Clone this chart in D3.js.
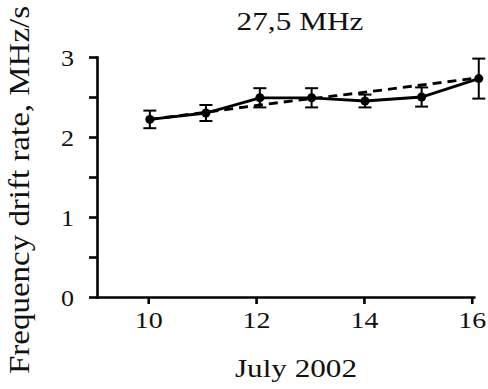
<!DOCTYPE html>
<html>
<head>
<meta charset="utf-8">
<script src="https://cdn.jsdelivr.net/npm/d3@7"></script>
<style>
  body { margin: 0; background: #fff; }
  svg { display: block; font-family: "Liberation Serif", "Times New Roman", serif; }
  .axis path, .axis line { stroke: #000; stroke-width: 2.6px; }
  .axis text { fill: #111; }
</style>
</head>
<body>
<div id="chart"></div>
<script>
// days (July 2002), measured drift rate, error and smoothed curve
var days = [10.03, 11.07, 12.07, 13.03, 14.02, 15.07, 16.13];
var rate = [2.22, 2.30, 2.49, 2.49, 2.45, 2.50, 2.73];
var err = [0.11, 0.10, 0.12, 0.12, 0.08, 0.12, 0.25];
var trend = [2.22, 2.31, 2.40, 2.48, 2.56, 2.65, 2.74];
var xTicks = [10, 12, 14, 16];
var yTicks = [0, 0.5, 1, 1.5, 2, 2.5, 3];

var width = 488, height = 389;

var svg = d3.select("#chart").append("svg")
  .attr("width", width)
  .attr("height", height);

/* Scales */
var x = d3.scaleLinear().domain([9.05, 16.06]).range([97, 475]);
var y = d3.scaleLinear().domain([0, 3]).range([297, 57]);

/* Axes */
var xAxis = d3.axisBottom(x).tickValues(xTicks).tickSize(7).tickSizeOuter(0).tickPadding(8)
  .tickFormat(d3.format("d"));
var yAxis = d3.axisLeft(y).tickValues(yTicks).tickSize(8).tickSizeOuter(0).tickPadding(15)
  .tickFormat(d => Number.isInteger(d) ? d : "");

var gx = svg.append("g")
  .attr("class", "x axis")
  .attr("transform", "translate(0," + y(0) + ")")
  .call(xAxis);
gx.selectAll("text")
  .attr("font-size", 23)
  .attr("font-family", "Liberation Serif")
  .attr("textLength", d => String(d).length * 14)
  .attr("lengthAdjust", "spacingAndGlyphs");

var gy = svg.append("g")
  .attr("class", "y axis")
  .attr("transform", "translate(" + x(9.05) + ",0)")
  .call(yAxis);
gy.selectAll("text")
  .attr("font-size", 23)
  .attr("font-family", "Liberation Serif")
  .attr("dy", "0.35em")
  .filter(d => Number.isInteger(d))
  .attr("textLength", 13)
  .attr("lengthAdjust", "spacingAndGlyphs");
gy.select(".domain").attr("stroke-linecap", "square");

/* Titles */
svg.append("text")
  .attr("x", 300).attr("y", 30)
  .attr("text-anchor", "middle")
  .attr("font-size", 26)
  .attr("textLength", 127).attr("lengthAdjust", "spacingAndGlyphs")
  .attr("fill", "#111")
  .text("27,5 MHz");

svg.append("text")
  .attr("x", 296).attr("y", 377)
  .attr("text-anchor", "middle")
  .attr("font-size", 26)
  .attr("textLength", 122).attr("lengthAdjust", "spacingAndGlyphs")
  .attr("fill", "#111")
  .text("July 2002");

svg.append("text")
  .attr("transform", "translate(29,190) rotate(-90)")
  .attr("text-anchor", "middle")
  .attr("font-size", 29)
  .attr("textLength", 368).attr("lengthAdjust", "spacingAndGlyphs")
  .attr("fill", "#111")
  .text("Frequency drift rate, MHz/s");

/* Lines */
var pts = days.map((d, i) => ({day: d, v: rate[i], e: err[i], t: trend[i]}));

var line = d3.line().x(d => x(d.day)).y(d => y(d.v));
var trendLine = d3.line().curve(d3.curveMonotoneX).x(d => x(d.day)).y(d => y(d.t));

svg.append("path")
  .datum(pts)
  .attr("d", trendLine)
  .attr("fill", "none")
  .attr("stroke", "#000")
  .attr("stroke-width", 2.8)
  .attr("stroke-dasharray", "9,6");

svg.append("path")
  .datum(pts)
  .attr("d", line)
  .attr("fill", "none")
  .attr("stroke", "#000")
  .attr("stroke-width", 2.8);

/* Error bars */
var bars = svg.append("g").attr("stroke", "#000").attr("stroke-width", 2);
bars.selectAll(".ebar").data(pts).enter().append("line")
  .attr("x1", d => x(d.day)).attr("x2", d => x(d.day))
  .attr("y1", d => y(d.v + d.e)).attr("y2", d => y(d.v - d.e));
bars.selectAll(".ctop").data(pts).enter().append("line")
  .attr("x1", d => x(d.day) - 6.5).attr("x2", d => x(d.day) + 6.5)
  .attr("y1", d => y(d.v + d.e)).attr("y2", d => y(d.v + d.e));
bars.selectAll(".cbot").data(pts).enter().append("line")
  .attr("x1", d => x(d.day) - 6.5).attr("x2", d => x(d.day) + 6.5)
  .attr("y1", d => y(d.v - d.e)).attr("y2", d => y(d.v - d.e));

/* Markers */
svg.append("g").selectAll("circle").data(pts).enter().append("circle")
  .attr("cx", d => x(d.day))
  .attr("cy", d => y(d.v))
  .attr("r", 4.5)
  .attr("fill", "#000");
</script>
</body>
</html>
